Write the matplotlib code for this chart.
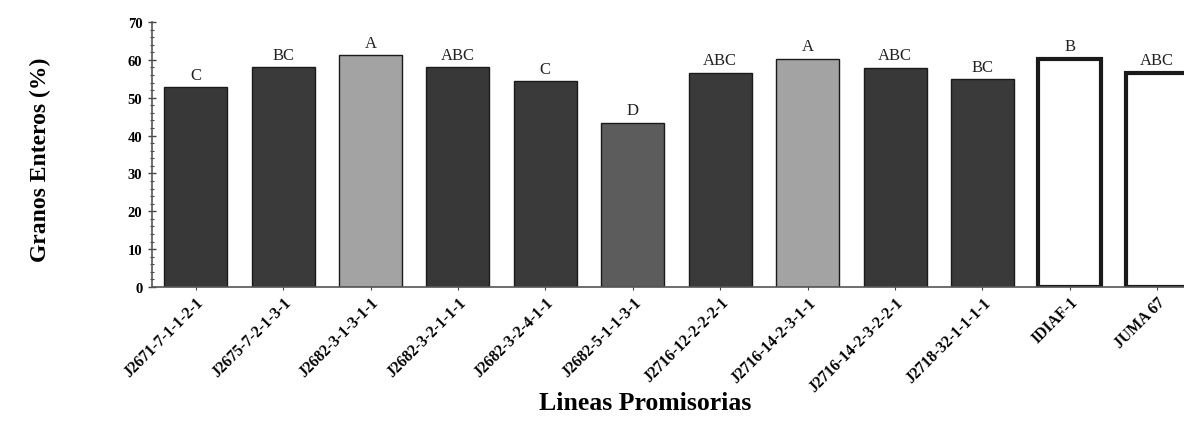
import matplotlib
matplotlib.use("Agg")
import matplotlib.pyplot as plt
from matplotlib.ticker import MultipleLocator

lineas = ["J2671-7-1-1-2-1", "J2675-7-2-1-3-1", "J2682-3-1-3-1-1", "J2682-3-2-1-1-1",
          "J2682-3-2-4-1-1", "J2682-5-1-1-3-1", "J2716-12-2-2-2-1", "J2716-14-2-3-1-1",
          "J2716-14-2-3-2-2-1", "J2718-32-1-1-1-1", "IDIAF-1", "JUMA 67"]
granos_enteros = [52.8, 58.1, 61.2, 58.1, 54.3, 43.4, 56.6, 60.3, 57.9, 54.9, 60.3, 56.6]
grupos = ["C", "BC", "A", "ABC", "C", "D", "ABC", "A", "ABC", "BC", "B", "ABC"]

fill = ["#383838", "#3a3a3a", "#a3a3a3", "#383838", "#3a3a3a", "#5c5c5c",
        "#3a3a3a", "#a3a3a3", "#383838", "#3a3a3a", "#ffffff", "#ffffff"]
edge_w = [1.0] * 10 + [3.0, 3.0]

plt.rcParams["font.family"] = ["Liberation Serif", "DejaVu Serif"]

fig = plt.figure(figsize=(11.84, 4.27), dpi=100)
ax = fig.add_axes([152 / 1184, 1 - 288 / 427, (1201 - 152) / 1184, (288 - 23) / 427])

x = list(range(len(lineas)))
bars = ax.bar(x, granos_enteros, width=0.72, color=fill, edgecolor="#1a1a1a",
              linewidth=edge_w, zorder=2)

for xi, v, g in zip(x, granos_enteros, grupos):
    ax.text(xi, v + 1.2, g, ha="center", va="bottom", fontsize=12, color="#222222")

ax.set_xlim(-0.5, 11.5)
ax.set_ylim(0, 70)
ax.yaxis.set_major_locator(MultipleLocator(10))
ax.yaxis.set_minor_locator(MultipleLocator(2))
ax.tick_params(axis="y", which="major", direction="inout", length=6, width=1,
               labelsize=10.5, pad=4, color="#444444")
ax.tick_params(axis="y", which="minor", direction="inout", length=3, width=0.8,
               color="#444444")
ax.tick_params(axis="x", which="major", direction="inout", length=4, width=0.8,
               color="#444444", pad=3)
for lab in ax.get_yticklabels():
    lab.set_fontweight("bold")

ax.set_xticks(x)
ax.set_xticklabels(lineas, rotation=45, ha="right", rotation_mode="anchor",
                   fontsize=11.3, fontweight="bold")

for s in ["top", "right"]:
    ax.spines[s].set_visible(False)
ax.spines["left"].set_color("#555555")
ax.spines["bottom"].set_color("#555555")
ax.spines["left"].set_linewidth(1.2)
ax.spines["bottom"].set_linewidth(1.2)

fig.text(40 / 1184, 1 - 160 / 427, "Granos Enteros (%)", rotation=90, ha="center",
         va="center", fontsize=17, fontweight="bold")
fig.text(645 / 1184, 1 - 404 / 427, "Lineas Promisorias", ha="center", va="center",
         fontsize=18.5, fontweight="bold")

fig.savefig("out.png", dpi=100)
